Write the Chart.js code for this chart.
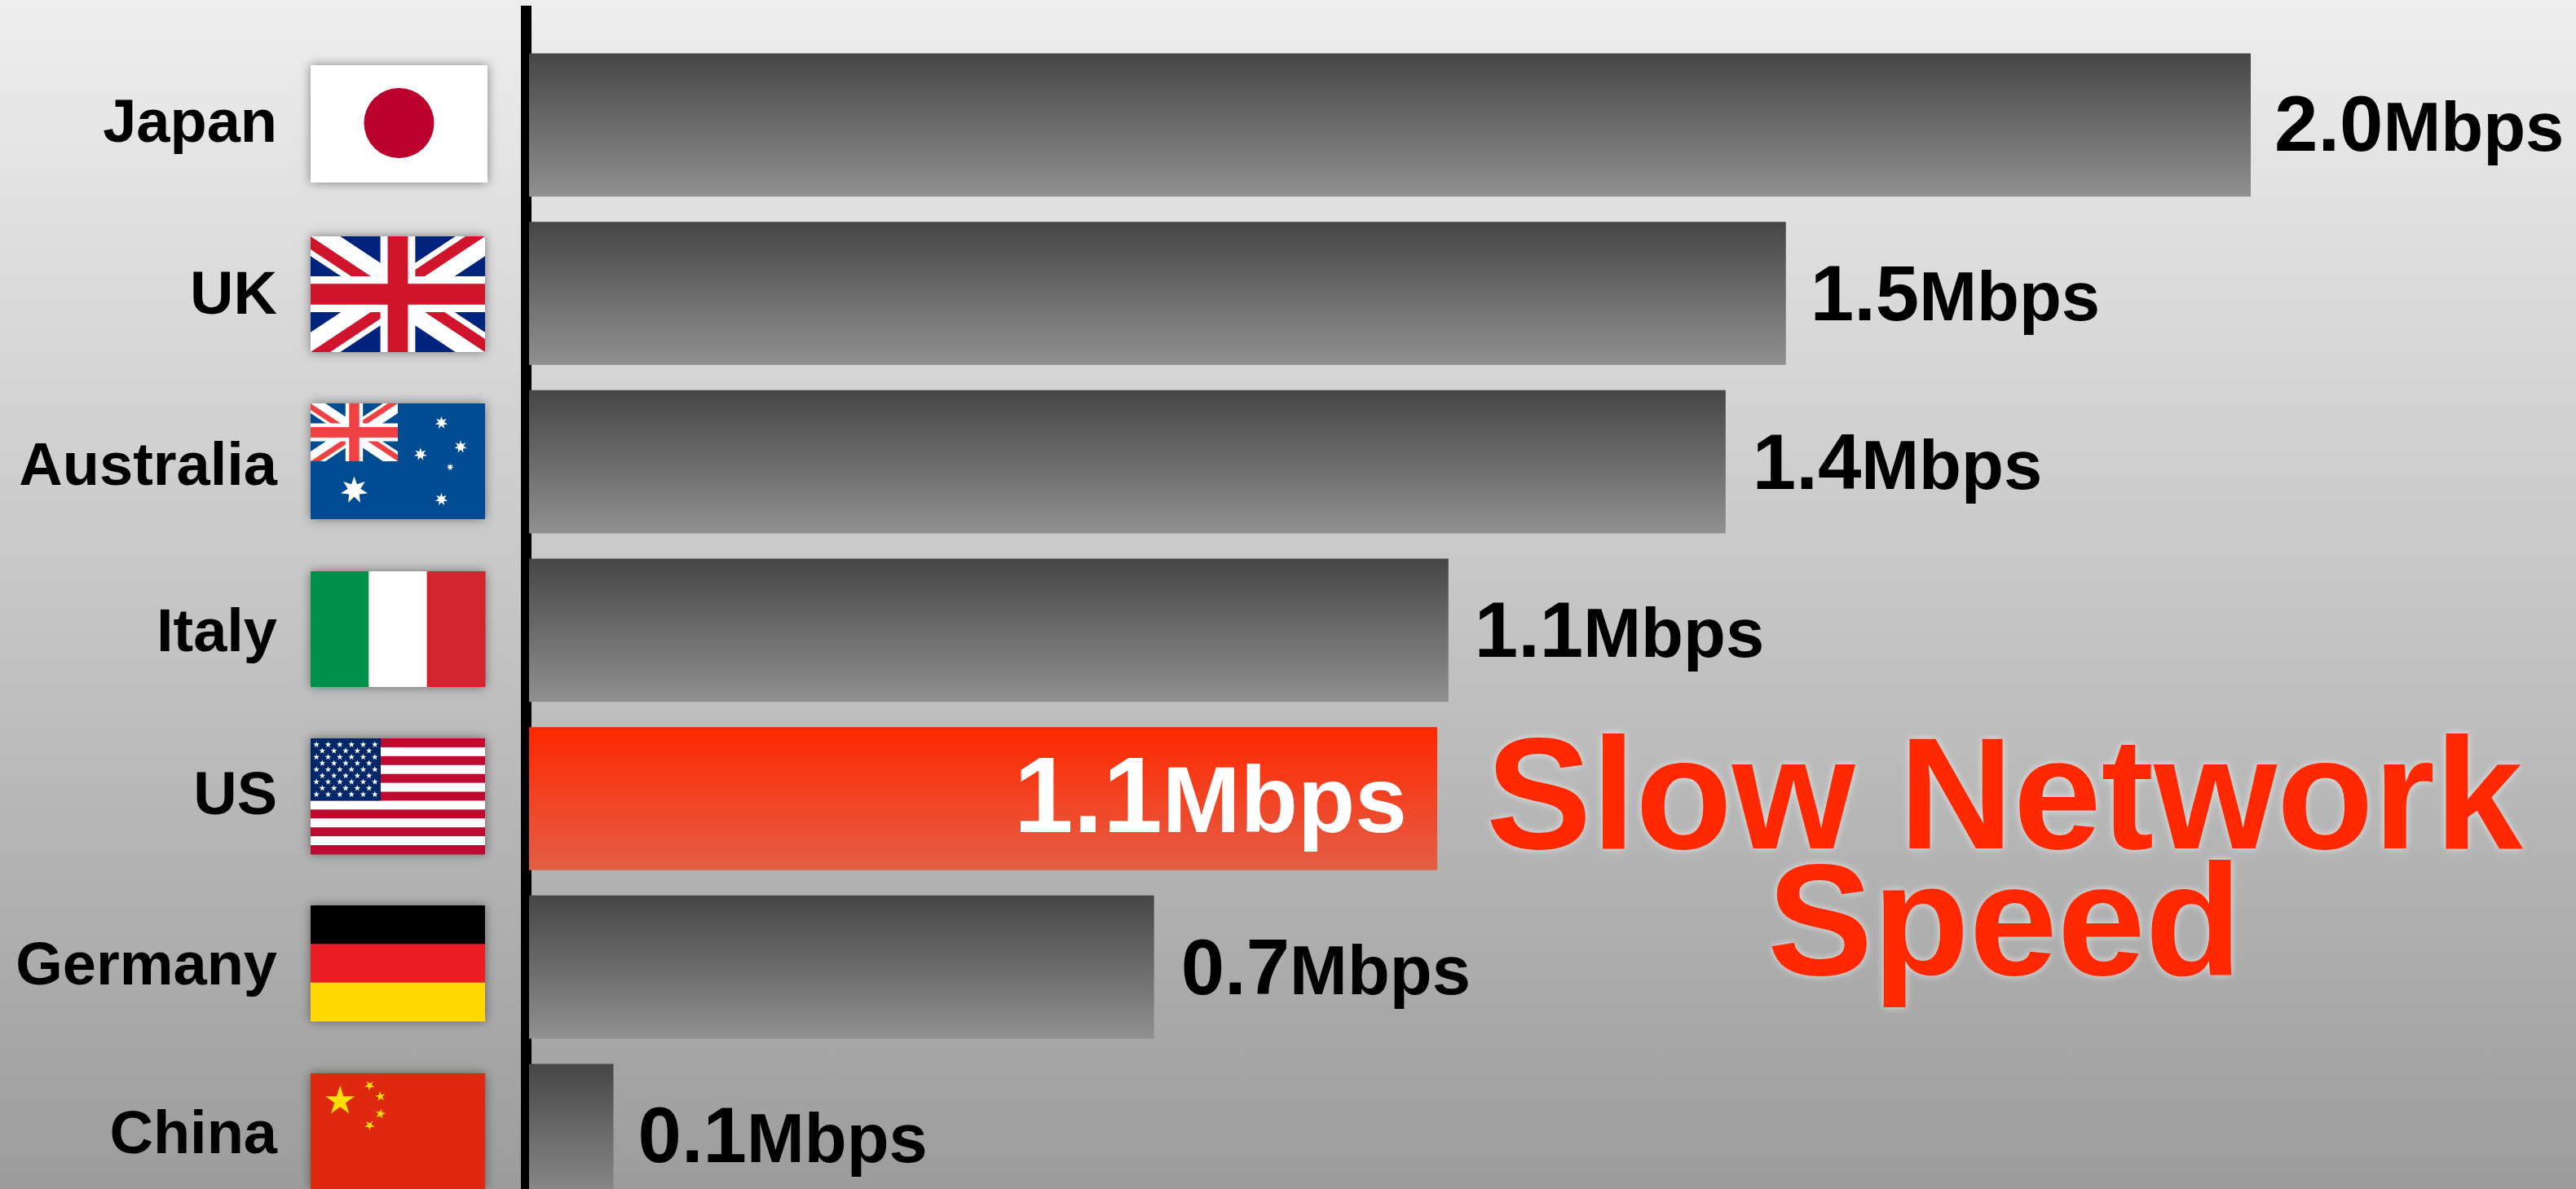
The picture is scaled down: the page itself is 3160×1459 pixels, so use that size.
<!DOCTYPE html>
<html><head><meta charset="utf-8">
<style>
html,body{margin:0;padding:0;width:3160px;height:1459px;overflow:hidden;background:linear-gradient(180deg,#eeeeee 0%,#c6c6c6 50%,#9c9c9c 100%);}
canvas{display:block;position:absolute;left:0;top:0}
</style>
<script src="https://cdn.jsdelivr.net/npm/chart.js@4"></script>
</head><body>
<canvas id="c" width="3160" height="1541"></canvas>
<script>
const countries = ["Japan","UK","Australia","Italy","US","Germany","China"];
const speeds = [2.0,1.46,1.39,1.068,1.055,0.726,0.098];
const speedLabels = ["2.0","1.5","1.4","1.1","1.1","0.7","0.1"];
const unit = "Mbps";
const highlighted = "US";
const calloutLines = ["Slow Network","Speed"];

const FONT='"Liberation Sans",Arial,sans-serif';
const labelNudge=[0,5,8,5.5,-1,1,1];
const valueBaseline=[32,33,33,33,41,33,33];
const valueGap=[29,30,33,32,37,33,30];
const flagTops=[80,290,495,701,906,1111,1317];
const flagH=142, flagX=381, flagW=214;
const labelShift=-309;

function star(ctx,cx,cy,r,n,inner,rot,col){
  ctx.fillStyle=col;ctx.beginPath();
  for(let i=0;i<n*2;i++){
    const a=(rot||0)-Math.PI/2+i*Math.PI/n, q=i%2?r*inner:r;
    ctx[i?'lineTo':'moveTo'](cx+q*Math.cos(a),cy+q*Math.sin(a));
  }
  ctx.closePath();ctx.fill();
}
function jack(ctx,x,y,w,h,blue,red){
  ctx.save();ctx.beginPath();ctx.rect(x,y,w,h);ctx.clip();
  ctx.fillStyle=blue;ctx.fillRect(x,y,w,h);
  const u=h/30;
  ctx.lineCap='butt';
  ctx.strokeStyle='#fff';ctx.lineWidth=8.5*u;
  ctx.beginPath();ctx.moveTo(x,y);ctx.lineTo(x+w,y+h);ctx.moveTo(x+w,y);ctx.lineTo(x,y+h);ctx.stroke();
  const cx=x+w/2,cy=y+h/2,t=2.8*u;
  const nx=h/Math.hypot(w,h),ny=w/Math.hypot(w,h);
  ctx.strokeStyle=red;ctx.lineWidth=t;
  const seg=(x1,y1,x2,y2,sx,sy)=>{const ox=sx*nx*t/2,oy=sy*ny*t/2;ctx.beginPath();ctx.moveTo(x1+ox,y1+oy);ctx.lineTo(x2+ox,y2+oy);ctx.stroke();};
  seg(x,y,cx,cy,-1,1);
  seg(cx,cy,x+w,y+h,1,-1);
  seg(x+w,y,cx,cy,-1,-1);
  seg(cx,cy,x,y+h,1,1);
  ctx.fillStyle='#fff';
  ctx.fillRect(cx-w*0.1,y,w*0.2,h);ctx.fillRect(x,cy-h*0.155,w,h*0.31);
  ctx.fillStyle=red;
  ctx.fillRect(cx-w*0.058,y,w*0.116,h);ctx.fillRect(x,cy-h*0.09,w,h*0.18);
  ctx.restore();
}
const flags={
  Japan(ctx,x,y,w,h){ctx.fillStyle='#fff';ctx.fillRect(x,y,w+3,h+2);
    ctx.fillStyle='#bc002d';ctx.beginPath();ctx.arc(x+w*0.507,y+h*0.5,43,0,7);ctx.fill();},
  UK(ctx,x,y,w,h){jack(ctx,x,y,w,h,'#00247d','#cf142b');},
  Australia(ctx,x,y,w,h){ctx.fillStyle='#004b91';ctx.fillRect(x,y,w,h);
    jack(ctx,x,y,w/2,h/2,'#004b91','#ef4044');
    star(ctx,x+w*0.25,y+h*0.75,17,7,.47,0,'#fff');
    [[.75,.167,8],[.86,.375,8],[.63,.44,8],[.80,.55,4.5],[.75,.83,8]].forEach(s=>star(ctx,x+w*s[0],y+h*s[1],s[2],7,.45,0,'#fff'));},
  Italy(ctx,x,y,w,h){[['#009048',0],['#fff',1],['#d2232e',2]].forEach(c=>{ctx.fillStyle=c[0];ctx.fillRect(x+c[1]*w/3,y,w/3+.5,h);});},
  US(ctx,x,y,w,h){
    for(let i=0;i<13;i++){ctx.fillStyle=i%2?'#fff':'#bf0a30';ctx.fillRect(x,y+i*h/13,w,h/13+.5);}
    const cw=w*0.402,ch=h*7/13;ctx.fillStyle='#002868';ctx.fillRect(x,y,cw,ch);
    for(let r=0;r<9;r++){const n=r%2?5:6;for(let k=0;k<n;k++){
      star(ctx,x+cw*((r%2?2:1)+2*k)/12,y+ch*(r+1)/10,4,5,.4,0,'#fff');}}},
  Germany(ctx,x,y,w,h){['#000','#ee1c25','#ffd900'].forEach((c,i)=>{ctx.fillStyle=c;ctx.fillRect(x,y+i*h/3,w,h/3+.5);});},
  China(ctx,x,y,w,h){ctx.fillStyle='#de2910';ctx.fillRect(x,y,w,h);
    star(ctx,x+w*.169,y+h*.24,19,5,.382,0,'#ffde00');
    [[.338,.105,.7],[.4,.2,1.1],[.4,.35,.2],[.338,.45,.6]].forEach(s=>star(ctx,x+w*s[0],y+h*s[1],6.5,5,.382,s[2],'#ffde00'));}
};

const overlay={
  id:'overlay',
  beforeDraw(chart){
    const s=chart.scales.y;
    s._labelItems=null;
    s.getLabelItems(chart.chartArea).forEach((it,i)=>{
      it.options.translation[0]+=labelShift;
      it.options.translation[1]+=labelNudge[i];
    });
  },
  beforeDatasetsDraw(chart){
    const ctx=chart.ctx,x0=chart.scales.x.getPixelForValue(0);
    ctx.save();ctx.fillStyle='#000';ctx.fillRect(x0-10,7,13,chart.height);ctx.restore();
  },
  afterDatasetsDraw(chart){
    const ctx=chart.ctx,meta=chart.getDatasetMeta(0);
    countries.forEach((c,i)=>{
      ctx.save();
      ctx.shadowColor='rgba(0,0,0,.45)';ctx.shadowBlur=12;
      ctx.fillStyle='#888';
      ctx.fillRect(flagX,flagTops[i],flagW+(c==='Japan'?3:0),flagH+(c==='Japan'?2:0));
      ctx.restore();
      ctx.save();flags[c](ctx,flagX,flagTops[i],flagW,flagH);ctx.restore();
    });
    ctx.save();ctx.textBaseline='alphabetic';ctx.textAlign='left';
    countries.forEach((c,i)=>{
      const bar=meta.data[i],hi=c===highlighted;
      const big=hi?131:96,small=hi?115:85;
      const y=chart.scales.y.getPixelForValue(i)+valueBaseline[i];
      ctx.font=`bold ${big}px ${FONT}`;const w1=ctx.measureText(speedLabels[i]).width;
      ctx.font=`bold ${small}px ${FONT}`;const w2=ctx.measureText(unit).width;
      const x=hi?bar.x-valueGap[i]-w1-w2:bar.x+valueGap[i];
      ctx.fillStyle=hi?'#fff':'#000';
      ctx.font=`bold ${big}px ${FONT}`;ctx.fillText(speedLabels[i],x,y);
      ctx.font=`bold ${small}px ${FONT}`;ctx.fillText(unit,x+w1,y);
    });
    ctx.font=`bold 194px ${FONT}`;ctx.textAlign='center';ctx.fillStyle='#ff2800';
    ctx.shadowColor='rgba(255,255,255,.7)';ctx.shadowBlur=10;
    calloutLines.forEach((t,i)=>ctx.fillText(t,2459,1041+i*155));
    ctx.restore();
  }
};

function barFill(c){
  const chart=c.chart,y=chart.scales.y;
  const hi=countries[c.dataIndex]===highlighted;
  const fallback=hi?'#f24a24':'#6a6a6a';
  if(!y||c.dataIndex===undefined) return fallback;
  const py=y.getPixelForValue(c.dataIndex),half=y.getPixelForValue(1)-y.getPixelForValue(0);
  if(!isFinite(py)||!isFinite(half)||half===0) return fallback;
  const g=chart.ctx.createLinearGradient(0,py-half*.425,0,py+half*.425);
  g.addColorStop(0,hi?'#ff2800':'#464646');
  g.addColorStop(1,hi?'#e45e46':'#909090');
  return g;
}

new Chart(document.getElementById('c'),{
  type:'bar',
  data:{labels:countries,datasets:[{data:speeds,backgroundColor:barFill,borderWidth:0,categoryPercentage:1,barPercentage:.85}]},
  options:{
    indexAxis:'y',responsive:false,animation:false,devicePixelRatio:1,
    layout:{padding:{top:50,right:399,bottom:40,left:0}},
    plugins:{legend:{display:false},tooltip:{enabled:false},title:{display:false}},
    scales:{
      x:{display:false,min:0,max:2.0},
      y:{
        afterFit(s){s.width=649;},
        grid:{display:false,drawTicks:false},border:{display:false},
        ticks:{padding:0,color:'#000',font:{family:FONT,weight:'bold',size:74},autoSkip:false,maxRotation:0,minRotation:0}
      }
    }
  },
  plugins:[overlay]
});
</script>
</body></html>
